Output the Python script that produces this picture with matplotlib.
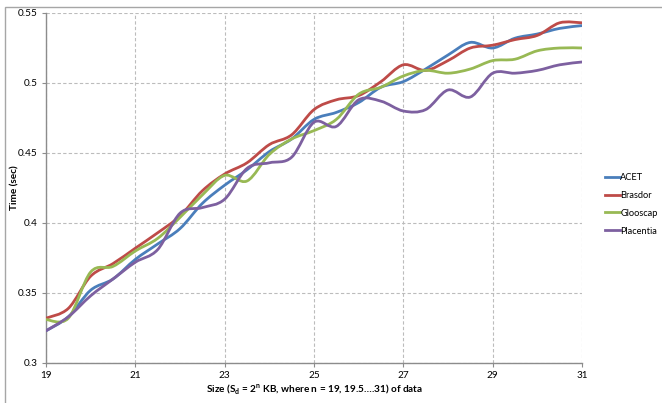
import matplotlib
matplotlib.use("Agg")
import matplotlib.pyplot as plt
import numpy as np
from matplotlib.path import Path
from matplotlib.patches import PathPatch, Rectangle
from matplotlib.lines import Line2D

plt.rcParams['font.family'] = ['Lato', 'DejaVu Sans']
plt.rcParams['mathtext.fontset'] = 'custom'
plt.rcParams['mathtext.rm'] = 'Lato'
plt.rcParams['mathtext.bf'] = 'Lato:bold'

x_values = [19, 19.5, 20, 20.5, 21, 21.5, 22, 22.5, 23, 23.5, 24, 24.5, 25,
            25.5, 26, 26.5, 27, 27.5, 28, 28.5, 29, 29.5, 30, 30.5, 31]

acet = [0.323, 0.333, 0.352, 0.360, 0.374, 0.385, 0.396, 0.414, 0.427, 0.438,
        0.451, 0.460, 0.474, 0.479, 0.486, 0.497, 0.501, 0.510, 0.520, 0.529,
        0.525, 0.532, 0.535, 0.539, 0.541]
brasdor = [0.332, 0.339, 0.362, 0.371, 0.382, 0.393, 0.405, 0.423, 0.435, 0.443,
           0.456, 0.463, 0.481, 0.488, 0.491, 0.501, 0.513, 0.509, 0.516, 0.525,
           0.527, 0.531, 0.534, 0.543, 0.543]
glooscap = [0.331, 0.332, 0.365, 0.369, 0.380, 0.389, 0.404, 0.420, 0.434, 0.430,
            0.449, 0.460, 0.466, 0.474, 0.492, 0.497, 0.505, 0.509, 0.507, 0.510,
            0.516, 0.517, 0.523, 0.525, 0.525]
placentia = [0.323, 0.333, 0.348, 0.360, 0.372, 0.381, 0.407, 0.411, 0.417, 0.439,
             0.443, 0.447, 0.472, 0.469, 0.488, 0.487, 0.480, 0.481, 0.495, 0.490,
             0.507, 0.507, 0.509, 0.513, 0.515]

series_names = ['ACET', 'Brasdor', 'Glooscap', 'Placentia']
series_values = [acet, brasdor, glooscap, placentia]
series_colors = ['#4A7EBB', '#BE4B48', '#98B954', '#7D60A0']

x_ticks = [19, 21, 23, 25, 27, 29, 31]
y_ticks = [0.3, 0.35, 0.4, 0.45, 0.5, 0.55]
y_tick_labels = ['0.3', '0.35', '0.4', '0.45', '0.5', '0.55']


def smooth_path(xs, ys):
    xs = np.asarray(xs, float)
    ys = np.asarray(ys, float)
    pts = np.column_stack([xs, ys])
    n = len(pts)
    verts = [pts[0]]
    codes = [Path.MOVETO]
    for i in range(n - 1):
        p0 = pts[i - 1] if i > 0 else pts[i]
        p1 = pts[i]
        p2 = pts[i + 1]
        p3 = pts[i + 2] if i + 2 < n else pts[i + 1]
        c1 = p1 + (p2 - p0) / 6.0
        c2 = p2 - (p3 - p1) / 6.0
        verts += [c1, c2, p2]
        codes += [Path.CURVE4] * 3
    return Path(verts, codes)


W, H = 662, 403
fig = plt.figure(figsize=(W / 100, H / 100), dpi=100)
fig.patches.append(Rectangle((5 / W, -0.05), 1.0, 1.05 - 7 / H, transform=fig.transFigure,
                             fill=False, edgecolor='#a6a6a6', lw=1.0))

ax = fig.add_axes([46 / W, 1 - 363 / H, (582 - 46) / W, (363 - 13) / H])

handles = []
for name, vals, col in zip(series_names, series_values, series_colors):
    patch = PathPatch(smooth_path(x_values, vals), facecolor='none', edgecolor=col,
                      lw=2.0, capstyle='round', joinstyle='round', zorder=3)
    ax.add_patch(patch)
    handles.append(Line2D([], [], color=col, lw=2.0, label=name))

ax.set_xlim(19, 31)
ax.set_ylim(0.3, 0.55)
ax.set_xticks(x_ticks)
ax.set_yticks(y_ticks)
ax.set_yticklabels(y_tick_labels)
ax.grid(True, color='#bcbcbc', linestyle=(0, (3, 2)), lw=0.8)
ax.set_axisbelow(True)
for s in ['top', 'right']:
    ax.spines[s].set_visible(False)
for s in ['left', 'bottom']:
    ax.spines[s].set_color('#8c8c8c')
    ax.spines[s].set_linewidth(1.0)
ax.tick_params(axis='both', labelsize=7.2, length=3, width=0.8, color='#8c8c8c',
               labelcolor='#000000', pad=3)

fig.text(15 / W, 1 - 188 / H, 'Time (sec)', rotation=90, fontsize=7.2, fontweight='bold',
         ha='center', va='center')
fig.text(314 / W, 1 - 389 / H,
         r'Size (S$_\mathbf{d}$ = 2$^\mathbf{n}$ KB, where n = 19, 19.5….31) of data',
         fontsize=7.2, fontweight='bold', ha='center', va='center')

leg = fig.legend(handles=handles, loc='upper left', bbox_to_anchor=(605 / W, 1 - 173 / H),
                 frameon=False, fontsize=6.7, handlelength=1.6, handletextpad=0.05,
                 labelspacing=0.95, borderaxespad=0, borderpad=0)

fig.savefig('out.png', dpi=100)
